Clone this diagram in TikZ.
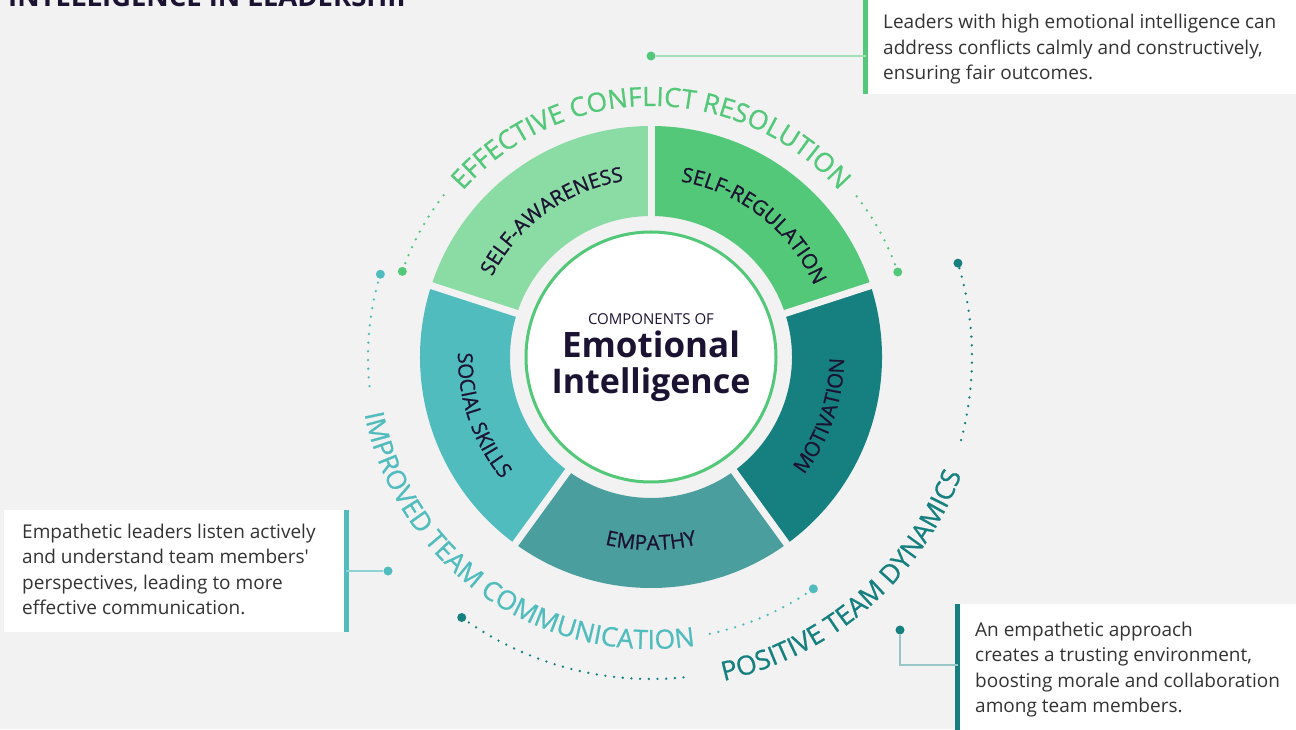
\documentclass[tikz,border=0pt]{standalone}
\usepackage{fontspec}
\setmainfont{Open Sans}
\newfontfamily\medfont{Open Sans}[FakeBold=0.8]
\usetikzlibrary{decorations.text}

\definecolor{bg}{HTML}{F2F2F2}
\definecolor{ink}{HTML}{1C1232}
\definecolor{note}{HTML}{333333}
\definecolor{sa}{HTML}{8BDBA5}
\definecolor{sr}{HTML}{52C878}
\definecolor{mo}{HTML}{15807F}
\definecolor{em}{HTML}{4A9E9E}
\definecolor{ss}{HTML}{50BCBE}

\newcommand\ringfont{\medfont\fontsize{20.5}{21}\selectfont}
\newcommand\arcfont{\medfont\fontsize{26.5}{27}\selectfont}
\newcommand\notefont{\fontsize{19}{25.5}\selectfont}

\tikzset{
  dots/.style={line width=2.6, line cap=round, dash pattern=on 0pt off 8.7pt},
  dot/.style={circle, inner sep=0, minimum size=9},
  notebox/.style={fill=white, inner sep=0, anchor=south west},
  notetext/.style={anchor=base west, inner sep=0, align=left, text=note, font=\notefont},
  bar/.style={line width=5},
  lead/.style={line width=1.3},
}

\begin{document}
\begin{tikzpicture}[x=1pt,y=1pt]

\useasboundingbox (0,0) rectangle (1296,729);
\fill[bg] (0,0) rectangle (1296,729);

\node[anchor=base west, inner sep=0, text=ink, font=\fontsize{27.5}{28}\selectfont\bfseries] (title) at (8,722) {INTELLIGENCE IN LEADERSHIP};

\begin{scope}[shift={(651,372)}]

% five ring pieces, 72 degrees each
\foreach \a/\c in {90/sa,162/ss,234/em,306/mo,18/sr}
  \fill[\c] (\a:231) arc[start angle=\a, delta angle=72, radius=231pt] -- ({\a+72}:141) arc[start angle={\a+72}, delta angle=-72, radius=141pt] -- cycle;
\foreach \a in {18,90,162,234,306} \draw[bg, line width=7] (\a:130) -- (\a:240);

\node[circle, draw=sr, line width=3, fill=white, minimum size=250, inner sep=0] (core) at (0,0) {};
\node[anchor=base, inner sep=0, text=ink, font=\fontsize{15}{15}\selectfont] (pre) at (0,32) {COMPONENTS OF};
\node[anchor=base, inner sep=0, text=ink, font=\fontsize{35}{35}\selectfont\bfseries] (emo) at (0,-1) {Emotional};
\node[anchor=base, inner sep=0, text=ink, font=\fontsize{34}{34}\selectfont\bfseries] (intel) at (0,-37) {Intelligence};

% labels on the ring
\path[decorate, decoration={text along path, text align=center, text color=ink, text={|\ringfont|SELF-AWARENESS}}] (166:178) arc[start angle=166, end angle=86, radius=178pt];
\path[decorate, decoration={text along path, text align=center, text color=ink, text={|\ringfont|SELF-REGULATION}}] (92:178) arc[start angle=92, end angle=12, radius=178pt];
\path[decorate, decoration={text along path, text align=center, text color=ink, text={|\ringfont|MOTIVATION}}] (-59:193) arc[start angle=-59, end angle=21, radius=193pt];
\path[decorate, decoration={text along path, text align=center, text color=ink, text={|\ringfont|EMPATHY}}] (230:193) arc[start angle=230, end angle=310, radius=193pt];
\path[decorate, decoration={text along path, text align=center, text color=ink, text={|\ringfont|SOCIAL SKILLS}}] (159:193) arc[start angle=159, end angle=239, radius=193pt];

% outer titles
\path[decorate, decoration={text along path, text align=center, text color=sr, text={|\arcfont|EFFECTIVE CONFLICT RESOLUTION}}] (160:251) arc[start angle=160, end angle=20, radius=251pt];
\path[decorate, decoration={text along path, text align=center, text color=ss, text={|\arcfont|IMPROVED TEAM COMMUNICATION}}] (165:292) arc[start angle=165, end angle=305, radius=292pt];
\path[decorate, decoration={text along path, text align=center, text color=mo, text={|\arcfont|POSITIVE TEAM DYNAMICS}}] (241:332) arc[start angle=241, end angle=381, radius=332pt];

\draw[sr, dots] (161:263) arc[start angle=161, end angle=141, radius=263pt];
\draw[sr, dots] (38:261) arc[start angle=38, end angle=19, radius=261pt];
\draw[ss, dots] (163:283) arc[start angle=163, end angle=187, radius=283pt];
\draw[ss, dots] (282:283) arc[start angle=282, end angle=305, radius=283pt];
\draw[mo, dots] (234:322) arc[start angle=234, end angle=276, radius=322pt];
\draw[mo, dots] (-15:321) arc[start angle=-15, end angle=17, radius=321pt];

\node[dot, fill=sr] (g1) at (161:263) {};
\node[dot, fill=sr] (g2) at (19:261) {};
\node[dot, fill=ss] (t1) at (163:283) {};
\node[dot, fill=ss] (t2) at (305:283) {};
\node[dot, fill=mo] (m1) at (234:322) {};
\node[dot, fill=mo] (m2) at (17:321) {};
\end{scope}

% notes and their leads
\node[notebox, minimum width=435, minimum height=100] (box1) at (865.5,635) {};
\node[notebox, minimum width=342, minimum height=122] (box2) at (4,97) {};
\node[notebox, minimum width=345, minimum height=130] (box3) at (957.5,-5) {};
\draw[sr, bar] (box1.south west) -- (box1.north west);
\draw[ss, bar] (box2.south east) -- (box2.north east);
\draw[mo, bar] (box3.south west) -- (box3.north west);

\node[dot, fill=sr] (lead1) at (651,673) {};
\node[dot, fill=ss] (lead2) at (388,158) {};
\node[dot, fill=mo] (lead3) at (900,99) {};
\coordinate (knee) at (957.5,64);
\draw[lead, sr!55] (lead1) -- (lead1 -| box1.west);
\draw[lead, ss!65] (lead2) -- (lead2 -| box2.east);
\draw[lead, mo!45] (lead3) |- (knee);

\node[notetext] (note1) at (883,649) {Leaders with high emotional intelligence can\\address conflicts calmly and constructively,\\ensuring fair outcomes.};
\node[notetext] (note2) at (22,114.5) {Empathetic leaders listen actively\\and understand team members\textquotesingle\\perspectives, leading to more\\effective communication.};
\node[notetext] (note3) at (975,16.5) {An empathetic approach\\creates a trusting environment,\\boosting morale and collaboration\\among team members.};

\end{tikzpicture}
\end{document}
